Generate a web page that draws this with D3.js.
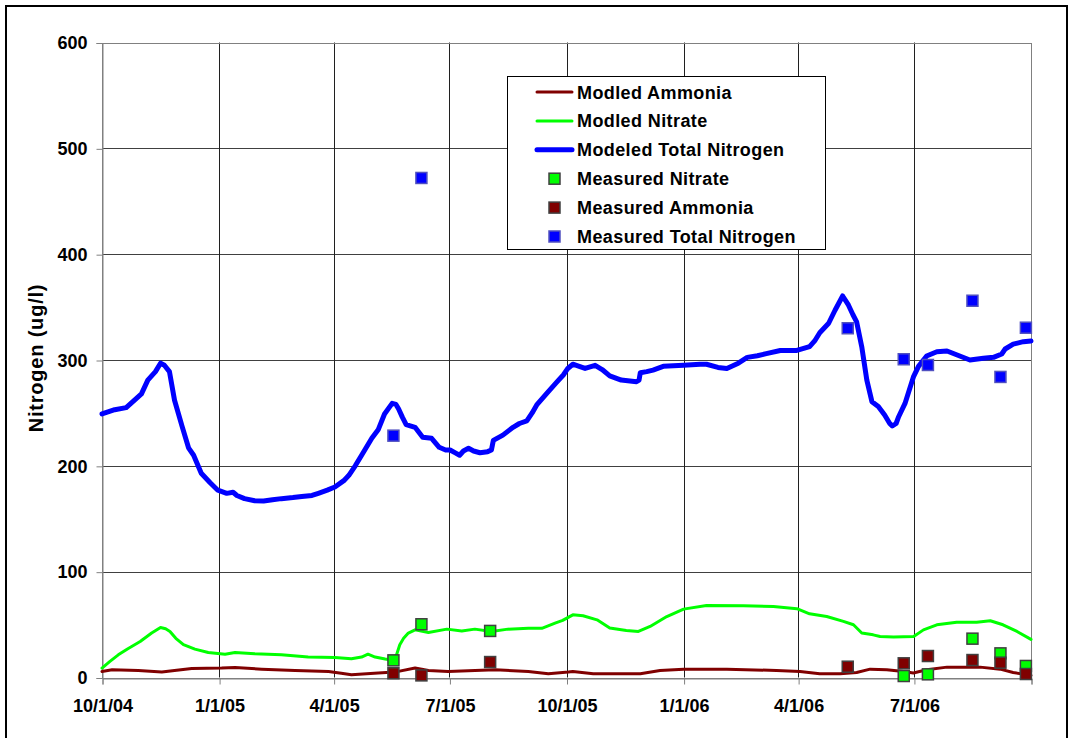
<!DOCTYPE html>
<html lang="en">
<head>
    <meta charset="UTF-8">
    <title>Nitrogen - Modeled vs Measured</title>
    <style>
        html, body {
            margin: 0;
            padding: 0;
            background-color: #fff;
            font-family: 'Liberation Sans', Arial, sans-serif;
        }
        svg text {
            font-weight: bold;
            fill: #000;
        }
    </style>
</head>
<body>
    <div id="chart"></div>
    <script src="https://d3js.org/d3.v7.min.js"></script>
    <script>
        // MODELED SERIES: [days since 10/1/04, ug/l]
        const modelAmmonia = [
            [0,5.7],[8,7.3],[28.5,6.6],[47,5.1],[57,6.6],[70.5,8.5],[94,8.9],[104.5,9.5],[125.5,7.9],
            [151.7,6.6],[178,5.7],[188,4],[196,2.6],[217,4.2],[230,5.1],[246,8.9],[256.5,6.6],[272,5.7],
            [309,7.3],[335,5.7],[350.7,3.5],[366.5,5.1],[370,5.7],[386,3.5],[423,3.5],[438.5,6.6],
            [457,7.9],[491,7.9],[530,6.6],[548.5,5.7],[564,3.5],[580,3.5],[593,4.7],[603.6,7.9],
            [616.7,7.3],[629.8,5.7],[637.6,4.2],[648,7.3],[664,9.8],[690,9.8],[705.7,7.9],[716,4.7],[730,2]
        ];
        const modelNitrate = [
            [0,8.9],[6,15],[12.8,21.4],[20,27],[30,34],[39,42],[46,47.3],[50,46],[53.4,43.5],[58,37],
            [64,31],[73,26.8],[83.5,23.6],[96.7,22],[104.5,23.6],[120,22.4],[141,21.4],[162,19.3],
            [183,18.9],[196,17.7],[204,19.3],[209,22],[214.6,19.3],[222.5,17.4],[230,16],[234,31],
            [237,37],[240.7,42],[246,45],[256.5,42.5],[271,45.7],[282.7,44],[293,45.7],[306,43.5],
            [319,45.7],[335,46.5],[345.6,46.5],[356,51.4],[362,54],[370,59.2],[378,58.3],[389,54.5],
            [399,46.7],[412,44.4],[421.5,43.5],[430.7,48.2],[443.8,57.6],[457,64.6],[475,68],[504,67.8],
            [527.6,67],[546,65],[556,60.2],[569.5,57.6],[582.6,53],[590.5,49.8],[597,42],[606,40.3],
            [611.4,38.7],[622,38.2],[637.8,38.7],[645.5,45],[656,49.8],[671.6,52.3],[687.3,52.3],
            [698,53.6],[708,49.8],[719,43.5],[730,36]
        ];
        const modelTotalN = [
            [0,249],[10,253],[19,255],[31,268],[36,281],[42,289],[46,297],[49,295],[53,289],[57,262],
            [63,237],[68,217],[72,210],[78,193],[85,184],[91,177],[98,174],[103,175],[106,172],[112,169],
            [120,167],[127,166.8],[134,168],[141,169],[150,170],[157,171],[165,172],[170,174],[177,177],
            [183,180],[190,186],[194,191],[199,200],[204,210],[208,218],[212,226],[217,234],[222,249],
            [228,259],[231,258],[233,254],[236,246],[239,239],[246,236.4],[252,227],[259,226],[265,217.5],
            [270,215],[273.5,215],[278,212],[281,210],[284,214],[288,216.6],[292,214],[297,212.4],
            [303,213.4],[306,215],[307.5,224],[315,229],[323,236.4],[328,240],[333.8,242.4],[338,250],
            [341.6,257.5],[349.5,268.5],[357,278.6],[362.5,285.8],[366,292],[370,296],[375,294],
            [379.6,292],[387.5,295],[393,291],[399,285],[408,281],[420,279.5],[422,281],[423,288],
            [428,289],[433,290.5],[441,294],[457,295],[470,296],[475,296],[484,293],[491,292],[500,297],
            [507,302.5],[515,304],[522,306],[533,309],[546,309],[556,312.6],[560,318],[564,325.8],
            [571,334.7],[576,347],[582,360.5],[586.5,352],[590,343],[593,336],[597,312.6],[601,281],
            [605,260.6],[610,256],[615,248],[619,240],[621,237.6],[624,240],[626,246.4],[631,259],
            [637.6,284],[641.6,294],[648,303.8],[656,307.8],[664,308.5],[672,304.7],[682,300],
            [692.6,301.6],[700.5,302.5],[707,305.7],[709.7,310.4],[716,315],[724,317.3],[730,318]
        ];

        // MEASURED SAMPLES
        const sampleDates = ["5/18/05", "6/9/05", "8/2/05", "5/10/06", "6/23/06", "7/12/06", "8/16/06", "9/7/06", "9/27/06"];
        const measNitrate = [16.2, 50.3, 44, null, 1.4, 3, 36.7, 22.8, 10.9];
        const measAmmonia = [4, 2, 14.6, 10.2, 13.4, 20.3, 16.5, 14, 3.3];
        const measTotalN = [228.5, 472, null, 330, 300.7, 295.3, 356, 284, 330.5];

        // AXES
        const xTickLabels = ["10/1/04", "1/1/05", "4/1/05", "7/1/05", "10/1/05", "1/1/06", "4/1/06", "7/1/06", "10/1/06"];
        const yTicks = [0, 100, 200, 300, 400, 500, 600];

        const legendItems = [
            {name: "Modled Ammonia", type: "line", color: "#800000", width: 3},
            {name: "Modled Nitrate", type: "line", color: "#00ff00", width: 3},
            {name: "Modeled Total Nitrogen", type: "line", color: "#0000ff", width: 5},
            {name: "Measured Nitrate", type: "marker", color: "#00ff00", stroke: "#404040"},
            {name: "Measured Ammonia", type: "marker", color: "#800000", stroke: "#404040"},
            {name: "Measured Total Nitrogen", type: "marker", color: "#0000ff", stroke: "#5050c0"}
        ];

        const W = 1074, H = 738;
        const plot = {left: 102, right: 1031, top: 42.5, bottom: 677.5};

        const parse = d3.timeParse("%m/%d/%y");
        const start = parse(xTickLabels[0]);
        const end = parse(xTickLabels[xTickLabels.length - 1]);
        const dayDate = (d) => d3.timeDay.offset(start, Math.floor(d)).getTime() + (d % 1) * 864e5;

        const x = d3.scaleTime().domain([start, end]).range([plot.left, plot.right]);
        const y = d3.scaleLinear().domain([0, 600]).range([plot.bottom, plot.top]);

        const svg = d3.select("#chart")
            .append("svg")
            .attr("width", W)
            .attr("height", H)
            .style("display", "block");

        // OUTER FRAME
        svg.append("rect")
            .attr("x", 6).attr("y", 6)
            .attr("width", 1061).attr("height", 745)
            .attr("fill", "#fff")
            .attr("stroke", "#000")
            .attr("stroke-width", 2);

        // GRIDLINES
        svg.append("g")
            .selectAll("line.h")
            .data(yTicks)
            .enter()
            .append("line")
            .attr("x1", plot.left).attr("x2", plot.right)
            .attr("y1", (d) => Math.round(y(d)) + 0.5)
            .attr("y2", (d) => Math.round(y(d)) + 0.5)
            .attr("stroke", "#404040");

        svg.append("g")
            .selectAll("line.v")
            .data(xTickLabels.slice(1, -1))
            .enter()
            .append("line")
            .attr("x1", (d) => Math.round(x(parse(d))) + 0.5)
            .attr("x2", (d) => Math.round(x(parse(d))) + 0.5)
            .attr("y1", plot.top).attr("y2", plot.bottom)
            .attr("stroke", "#202020");

        // PLOT BORDER
        svg.append("rect")
            .attr("x", plot.left + 0.5).attr("y", Math.round(plot.top) + 0.5)
            .attr("width", plot.right - plot.left)
            .attr("height", Math.round(plot.bottom) - Math.round(plot.top))
            .attr("fill", "none")
            .attr("stroke", "#808080");

        // Y AXIS
        const yAxis = svg.append("g")
            .attr("transform", `translate(${plot.left + 0.5},0.5)`)
            .call(d3.axisLeft(y).tickValues(yTicks).tickSize(6).tickPadding(9).tickFormat(d3.format("d")));
        yAxis.select(".domain").attr("stroke", "#808080");
        yAxis.selectAll(".tick line").attr("stroke", "#808080");
        yAxis.selectAll("text")
            .style("font-size", "18px")
            .style("font-family", "'Liberation Sans', Arial, sans-serif");

        // X AXIS
        const xAxis = svg.append("g")
            .attr("transform", `translate(0.5,${Math.round(plot.bottom) + 0.5})`)
            .call(d3.axisBottom(x)
                .tickValues(xTickLabels.map(parse))
                .tickSize(6)
                .tickPadding(15)
                .tickFormat((d, i) => i < xTickLabels.length - 1 ? xTickLabels[i] : ""));
        xAxis.select(".domain").attr("stroke", "#808080");
        xAxis.selectAll(".tick line").attr("stroke", "#808080");
        xAxis.selectAll("text")
            .style("font-size", "18px")
            .style("font-family", "'Liberation Sans', Arial, sans-serif");

        // Y AXIS TITLE
        svg.append("text")
            .attr("transform", "translate(43,358) rotate(-90)")
            .attr("text-anchor", "middle")
            .style("font-size", "20px")
            .style("letter-spacing", "0.8px")
            .text("Nitrogen (ug/l)");

        // MODELED LINES
        const line = d3.line()
            .x((d) => x(dayDate(d[0])))
            .y((d) => y(d[1]));

        [[modelAmmonia, legendItems[0]], [modelNitrate, legendItems[1]], [modelTotalN, legendItems[2]]]
            .forEach(([data, item]) => {
                svg.append("path")
                    .datum(data)
                    .attr("d", line)
                    .attr("fill", "none")
                    .attr("stroke", item.color)
                    .attr("stroke-width", item.width)
                    .attr("stroke-linejoin", "round")
                    .attr("stroke-linecap", "round");
            });

        // MEASURED MARKERS
        const size = 11;
        [[measNitrate, legendItems[3]], [measAmmonia, legendItems[4]], [measTotalN, legendItems[5]]]
            .forEach(([vals, item]) => {
                svg.append("g")
                    .selectAll("rect")
                    .data(sampleDates.map((d, i) => ({date: parse(d), value: vals[i]})).filter((d) => d.value != null))
                    .enter()
                    .append("rect")
                    .attr("x", (d) => x(d.date) - size / 2)
                    .attr("y", (d) => y(d.value) - size / 2)
                    .attr("width", size)
                    .attr("height", size)
                    .attr("fill", item.color)
                    .attr("stroke", item.stroke)
                    .attr("stroke-width", 1.5);
            });

        // LEGEND
        const legend = svg.append("g");
        legend.append("rect")
            .attr("x", 507.5).attr("y", 76.5)
            .attr("width", 318).attr("height", 173)
            .attr("fill", "#fff")
            .attr("stroke", "#000");

        const rowY = (i) => 92 + i * 28.9;
        legendItems.forEach((item, i) => {
            if (item.type === "line") {
                legend.append("line")
                    .attr("x1", 537).attr("x2", 572)
                    .attr("y1", rowY(i)).attr("y2", rowY(i))
                    .attr("stroke", item.color)
                    .attr("stroke-width", item.width)
                    .attr("stroke-linecap", "round");
            } else {
                legend.append("rect")
                    .attr("x", 554.5 - size / 2).attr("y", rowY(i) - size / 2)
                    .attr("width", size).attr("height", size)
                    .attr("fill", item.color)
                    .attr("stroke", item.stroke)
                    .attr("stroke-width", 1.5);
            }
            legend.append("text")
                .attr("x", 577)
                .attr("y", rowY(i) + 6.5)
                .style("font-size", "18px")
                .style("letter-spacing", "0.4px")
                .text(item.name);
        });
    </script>
</body>
</html>
